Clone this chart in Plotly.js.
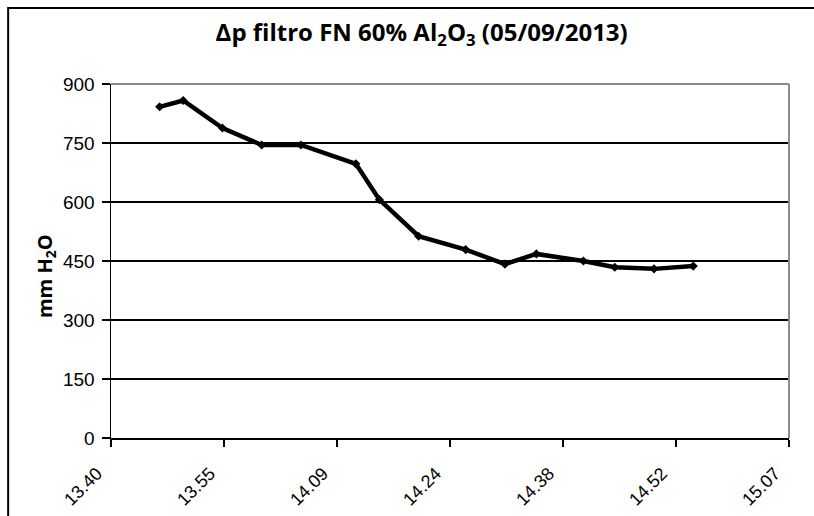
<!DOCTYPE html>
<html>
<head>
<meta charset="utf-8">
<script src="https://cdn.plot.ly/plotly-3.0.1.min.js"></script>
<style>html,body{margin:0;padding:0;background:#fff;}#chart{width:814px;height:516px;}</style>
</head>
<body>
<div id="chart"></div>
<script>
// Data (time of day hh:mm, pressure drop in mm H2O)
const times = ["13:47","13:50","13:55","14:00","14:05","14:12","14:15","14:20","14:26","14:31","14:35","14:41","14:45","14:50","14:55"];
const dpValues = [842, 858, 788, 745, 745, 697, 606, 513, 479, 442, 468, 450, 434, 430, 437];

// Axis ticks (Excel time axis: fraction of day, step 0.01)
const xTickVals = [0.57, 0.58, 0.59, 0.60, 0.61, 0.62, 0.63];
const xTickLabels = ["13.40", "13.55", "14.09", "14.24", "14.38", "14.52", "15.07"];
const yTickVals = [0, 150, 300, 450, 600, 750, 900];

// convert hh:mm to fraction of a day
const xDays = times.map(t => { const [h, m] = t.split(":").map(Number); return (h * 60 + m) / 1440; });

const trace = {
  x: xDays, y: dpValues, type: "scatter", mode: "lines+markers",
  line: {color: "#000000", width: 4.5},
  marker: {symbol: "diamond", size: 7, color: "#000000"},
  hoverinfo: "skip"
};

const titleFont = "'Open Sans', Lato, sans-serif";
const tickFont = "'Liberation Sans', Arial, sans-serif";

const layout = {
  width: 814, height: 516,
  margin: {l: 111, r: 25, t: 84, b: 78, pad: 0},
  paper_bgcolor: "#ffffff", plot_bgcolor: "#ffffff",
  showlegend: false,
  title: {
    text: "<b>Δp filtro FN 60% Al<sub>2</sub>O<sub>3</sub> (05/09/2013)</b>",
    font: {family: titleFont, size: 24, color: "#000000"},
    xref: "container", x: 0.518, xanchor: "center",
    yref: "container", y: 0.937, yanchor: "middle"
  },
  xaxis: {
    range: [0.57, 0.63], tickmode: "array", tickvals: xTickVals, ticktext: xTickLabels,
    tickangle: -45, ticks: "outside", ticklen: 7, tickcolor: "#000", tickwidth: 1.5,
    ticklabelstandoff: 9, ticklabelshift: -14,
    showgrid: false, zeroline: false, showline: true, linecolor: "#000", linewidth: 2,
    tickfont: {family: tickFont, size: 18, color: "#000"},
    fixedrange: true
  },
  yaxis: {
    range: [0, 900], tickmode: "array", tickvals: yTickVals,
    ticks: "outside", ticklen: 8, tickcolor: "#000", tickwidth: 1.5,
    ticklabelstandoff: 3,
    showgrid: true, gridcolor: "#000000", gridwidth: 1.3,
    zeroline: false, showline: true, linecolor: "#000", linewidth: 1.5,
    tickfont: {family: tickFont, size: 19, color: "#000"},
    fixedrange: true
  },
  annotations: [{
    text: "<b>mm H<sub>2</sub>O</b>", textangle: -90, showarrow: false,
    xref: "paper", yref: "paper",
    x: (45 - 111) / 679, y: (438 - 276) / 354, xanchor: "center", yanchor: "middle",
    font: {family: titleFont, size: 20, color: "#000"}
  }],
  shapes: [
    // gray plot-area border on top and right
    {type: "line", xref: "paper", yref: "paper", x0: 0, x1: 1, y0: 1, y1: 1, line: {color: "#8c8c8c", width: 2}, layer: "above"},
    {type: "line", xref: "paper", yref: "paper", x0: 1, x1: 1, y0: 0, y1: 1, line: {color: "#8c8c8c", width: 2}, layer: "above"},
    // outer chart border (extends beyond the image on right and bottom)
    {type: "rect", xref: "paper", yref: "paper", x0: -0.1517, x1: 1.2, y0: -0.4, y1: 1.2147, line: {color: "#000000", width: 2}, fillcolor: "rgba(0,0,0,0)", layer: "above"}
  ]
};

Plotly.newPlot("chart", [trace], layout, {staticPlot: true, displayModeBar: false});
</script>
</body>
</html>
